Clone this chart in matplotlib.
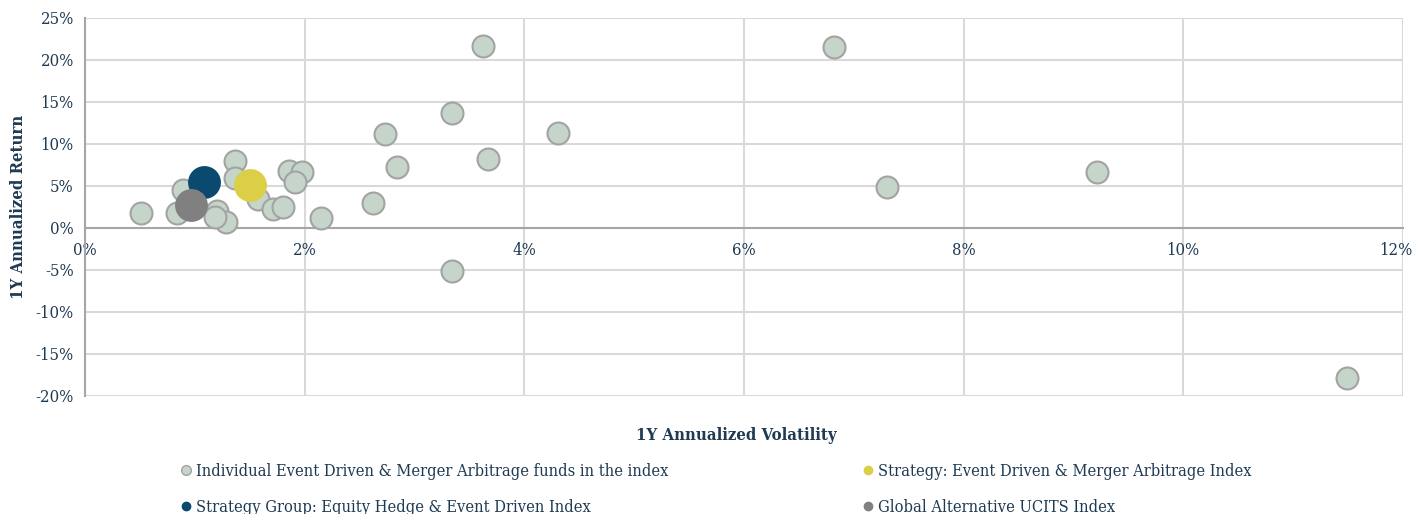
import matplotlib
matplotlib.use("Agg")
import matplotlib.pyplot as plt
from matplotlib.lines import Line2D
from matplotlib.ticker import FuncFormatter
from matplotlib.transforms import ScaledTranslation

# 1Y annualized volatility (%) and return (%) of the individual funds
fund_vol = [0.51, 0.84, 0.89, 1.20, 1.28, 1.18, 1.37, 1.37, 1.58, 1.71, 1.80,
            1.86, 1.98, 1.91, 2.15, 2.62, 2.73, 2.84, 3.34, 3.34, 3.62, 3.67,
            4.31, 6.82, 7.30, 9.21, 11.49]
fund_ret = [1.79, 1.79, 4.50, 2.07, 0.75, 1.30, 8.00, 5.90, 3.50, 2.26, 2.46,
            6.79, 6.70, 5.50, 1.20, 2.95, 11.19, 7.22, 13.65, -5.08, 21.70, 8.21,
            11.35, 21.55, 4.88, 6.67, -17.86]

# index points
index_names = ["Strategy Group: Equity Hedge & Event Driven Index",
               "Strategy: Event Driven & Merger Arbitrage Index",
               "Global Alternative UCITS Index"]
index_vol = [1.08, 1.50, 0.97]
index_ret = [5.47, 5.12, 2.74]
index_colors = ["#0b4a6f", "#dccf48", "#808080"]

fund_label = "Individual Event Driven & Merger Arbitrage funds in the index"

x_ticks = [0, 2, 4, 6, 8, 10, 12]
y_ticks = [-20, -15, -10, -5, 0, 5, 10, 15, 20, 25]

text_color = "#1f3a52"
plt.rcParams["font.family"] = ["DejaVu Serif"]
plt.rcParams["font.stretch"] = "condensed"

fig = plt.figure(figsize=(14.16, 5.14), dpi=100)
ax = fig.add_axes([0.060, 0.2296, 0.9308, 0.7354])

ax.scatter(fund_vol, fund_ret, s=250, color="#c5d5ca", edgecolor="#a3a3a3",
           linewidth=1.5, zorder=3)
for v, r, c in zip(index_vol, index_ret, index_colors):
    ax.scatter([v], [r], s=560, color=c, linewidth=0, zorder=4)

ax.set_xlim(0, 12)
ax.set_ylim(-20, 25)
ax.set_xticks(x_ticks)
ax.set_yticks(y_ticks)
ax.xaxis.set_major_formatter(FuncFormatter(lambda v, p: f"{v:.0f}%"))
ax.yaxis.set_major_formatter(FuncFormatter(lambda v, p: f"{v:.0f}%"))
ax.grid(True, color="#d9d9d9", linewidth=1.5, zorder=0)
ax.set_axisbelow(True)

for side in ["top", "right"]:
    ax.spines[side].set_visible(False)
ax.spines["bottom"].set_position(("data", 0))
ax.spines["bottom"].set_color("#a6a6a6")
ax.spines["bottom"].set_linewidth(1.5)
ax.spines["left"].set_color("#a6a6a6")
ax.spines["left"].set_linewidth(1.5)
ax.spines["bottom"].set_zorder(2)

ax.tick_params(length=0, labelsize=12, colors=text_color, pad=8)
ax.tick_params(axis="x", pad=10)

# nudge the last x label so it stays inside the figure
last = ax.xaxis.get_major_ticks()[-1].label1
last.set_transform(last.get_transform() + ScaledTranslation(-5 / 72, 0, fig.dpi_scale_trans))

ax.set_ylabel("1Y Annualized Return", fontsize=12, fontweight="bold",
              color=text_color, labelpad=6)
fig.text(0.52, 0.153, "1Y Annualized Volatility", ha="center", va="center",
         fontsize=12, fontweight="bold", color=text_color)

handles = [
    Line2D([], [], marker="o", linestyle="", markersize=7,
           markerfacecolor="#c5d5ca", markeredgecolor="#a3a3a3", label=fund_label),
    Line2D([], [], marker="o", linestyle="", markersize=6,
           markerfacecolor=index_colors[0], markeredgecolor=index_colors[0],
           label=index_names[0]),
    Line2D([], [], marker="o", linestyle="", markersize=6,
           markerfacecolor=index_colors[1], markeredgecolor=index_colors[1],
           label=index_names[1]),
    Line2D([], [], marker="o", linestyle="", markersize=6,
           markerfacecolor=index_colors[2], markeredgecolor=index_colors[2],
           label=index_names[2]),
]
leg = fig.legend(handles=handles, ncol=2, loc="upper left",
                 bbox_to_anchor=(0.1277, 0.0992), frameon=False, fontsize=11.8,
                 handlelength=0.6, handletextpad=0.3, columnspacing=11.9,
                 labelspacing=1.15, borderaxespad=0, borderpad=0)
for t in leg.get_texts():
    t.set_color(text_color)

fig.savefig("out.png", dpi=100)
